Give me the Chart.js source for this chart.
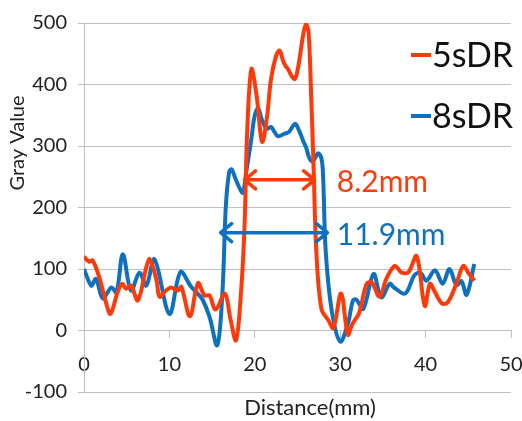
<!DOCTYPE html>
<html>
<head>
<meta charset="utf-8">
<script src="https://cdn.jsdelivr.net/npm/chart.js@4"></script>
<style>
  html, body { margin: 0; padding: 0; background: #fff; }
  #wrap { width: 522px; height: 421px; }
</style>
</head>
<body>
<div id="wrap"><canvas id="profileChart" width="522" height="421"></canvas></div>
<script>
// Profile data (distance in mm, gray value)
const redDist = [0, 0.6, 1.0, 1.8, 2.6, 3.1, 4.0, 4.5, 4.9, 5.5, 6.3, 7.3, 7.7, 8.5, 8.85, 9.6, 10.2, 11.0, 11.4, 12.4,
    13.35, 14.1, 14.7, 15.4, 16.5, 17.1, 17.8, 18.4, 18.8, 19.1, 19.6, 20.2, 20.85, 21.4, 21.9, 22.5, 22.9, 23.3, 23.6,
    23.9, 24.3, 24.7, 25.1, 25.7, 26.0, 26.3, 26.6, 26.9, 27.2, 27.8, 28.6, 29.2, 30.1, 30.9, 31.4, 32.2, 33.1, 33.7,
    34.6, 35.4, 36.4, 37.2, 38.0, 38.95, 39.9, 40.5, 41.0, 41.9, 42.6, 43.6, 44.4, 45.0, 45.7];
const redGray = [120, 112, 114, 86, 44, 27, 65, 76, 68, 73, 49, 103, 116, 81, 55, 65, 70, 65, 71, 23,
    77, 57, 57, 34, 60, 22, -16, 65, 170, 320, 425, 383, 307, 344, 409, 447, 455, 439, 430,
    425, 414, 409, 430, 484, 498, 484, 382, 258, 130, 35, 17, 4, 60, -7, 10, 28, 76, 78,
    55, 84, 105, 94, 95, 121, 40, 76, 65, 44, 46, 76, 105, 94, 81];

const blueDist = [0, 0.85, 1.4, 2.2, 3.2, 3.8, 4.55, 5.5, 6.5, 7.3, 8.25, 10.0, 11.3, 12.5, 13.3, 13.9, 14.7, 15.6,
    16.2, 16.6, 17.0, 17.3, 17.7, 18.2, 18.6, 19.0, 19.6, 20.0, 20.4, 20.8, 21.4, 21.9, 22.3, 22.7, 23.5, 24.0, 24.7,
    25.1, 25.7, 26.0, 26.4, 26.8, 27.4, 27.8, 28.0, 28.3, 29.0, 30.0, 30.9, 31.5, 31.9, 32.7, 33.9, 34.8, 35.8, 36.3,
    37.6, 38.7, 39.4, 40.1, 41.1, 42.0, 42.8, 43.6, 44.2, 44.8, 45.7];
const blueGray = [100, 73, 84, 52, 70, 62, 124, 65, 94, 73, 116, 27, 95, 72, 60, 50, 22, -24,
    60, 200, 258, 262, 248, 232, 224, 258, 312, 350, 361, 344, 328, 331, 323, 316, 320, 323, 336,
    328, 307, 298, 280, 275, 288, 280, 250, 130, 33, -18, 11, 49, 50, 35, 92, 54, 76, 70,
    60, 90, 94, 81, 98, 76, 100, 74, 80, 58, 108];

const seriesNames = ["5sDR", "8sDR"];
const seriesColors = ["#FF3A0A", "#0F70C0"];

// FWHM arrows: [from, to] in mm, drawn at gray value arrowLevel
const arrowFrom = [18.8, 16.0];
const arrowTo = [27.0, 28.5];
const arrowLevel = [245, 159];
const arrowText = ["8.2mm", "11.9mm"];
const arrowTextX = [29.6, 29.6];

const xTicks = [0, 10, 20, 30, 40, 50];
const yTicks = [-100, 0, 100, 200, 300, 400, 500];

const FONT = "Lato, 'Open Sans', sans-serif";

function toPoints(xs, ys) {
    return xs.map((x, i) => ({ x: x, y: ys[i] }));
}

// Axis titles, legend and arrows drawn on top of the chart
const overlayPlugin = {
    id: "overlay",
    afterDatasetsDraw(chart) {
        const ctx = chart.ctx;
        const xs = chart.scales.x;
        const ys = chart.scales.y;
        const area = chart.chartArea;
        ctx.save();

        // arrows with labels
        arrowFrom.forEach((from, i) => {
            const x1 = xs.getPixelForValue(from);
            const x2 = xs.getPixelForValue(arrowTo[i]);
            const y = ys.getPixelForValue(arrowLevel[i]);
            ctx.strokeStyle = seriesColors[i];
            ctx.lineWidth = 3.5;
            ctx.lineCap = "round";
            ctx.lineJoin = "round";
            ctx.beginPath();
            ctx.moveTo(x1, y);
            ctx.lineTo(x2, y);
            ctx.moveTo(x1 + 11, y - 9);
            ctx.lineTo(x1, y);
            ctx.lineTo(x1 + 11, y + 9);
            ctx.moveTo(x2 - 11, y - 9);
            ctx.lineTo(x2, y);
            ctx.lineTo(x2 - 11, y + 9);
            ctx.stroke();

            ctx.fillStyle = seriesColors[i];
            ctx.font = "30px " + FONT;
            ctx.textAlign = "left";
            ctx.textBaseline = "middle";
            ctx.fillText(arrowText[i], xs.getPixelForValue(arrowTextX[i]), y + 3);
        });

        // legend in the upper right of the plot
        chart.data.datasets.forEach((ds, i) => {
            const y = area.top + 32 + i * 61;
            const lx = area.right - 100;
            ctx.strokeStyle = ds.borderColor;
            ctx.lineWidth = 4;
            ctx.lineCap = "butt";
            ctx.beginPath();
            ctx.moveTo(lx, y);
            ctx.lineTo(lx + 20, y);
            ctx.stroke();
            ctx.fillStyle = "#111";
            ctx.font = "34px " + FONT;
            ctx.textAlign = "left";
            ctx.textBaseline = "middle";
            ctx.fillText(ds.label, lx + 21, y + 1);
        });

        // axis titles
        ctx.fillStyle = "#222";
        ctx.font = "22px " + FONT;
        ctx.textAlign = "center";
        ctx.textBaseline = "middle";
        ctx.fillText("Distance(mm)", 310, area.bottom + 16);

        ctx.translate(18, 143);
        ctx.rotate(-Math.PI / 2);
        ctx.font = "20px " + FONT;
        ctx.fillText("Gray Value", 0, 0);
        ctx.restore();
    }
};

const chart = new Chart(document.getElementById("profileChart"), {
    type: "line",
    data: {
        datasets: [
            {
                label: seriesNames[0],
                data: toPoints(redDist, redGray),
                borderColor: seriesColors[0],
                borderWidth: 4,
                pointRadius: 0,
                tension: 0.35,
                fill: false
            },
            {
                label: seriesNames[1],
                data: toPoints(blueDist, blueGray),
                borderColor: seriesColors[1],
                borderWidth: 4,
                pointRadius: 0,
                tension: 0.35,
                fill: false
            }
        ]
    },
    options: {
        responsive: false,
        animation: false,
        layout: { padding: { left: 24, right: 11, top: 20, bottom: 29 } },
        plugins: {
            legend: { display: false },
            tooltip: { enabled: false }
        },
        scales: {
            x: {
                type: "linear",
                position: { y: 0 },
                min: 0,
                max: 50,
                afterBuildTicks: (scale) => { scale.ticks = xTicks.map(v => ({ value: v })); },
                afterFit: (scale) => { scale.paddingLeft = 0; scale.paddingRight = 0; },
                grid: { drawOnChartArea: false, drawTicks: true, tickLength: 7, color: "#c0c0c0" },
                border: { display: true, color: "#c0c0c0" },
                ticks: { padding: 15, color: "#222", font: { family: FONT, size: 20 }, maxRotation: 0 }
            },
            y: {
                min: -100,
                max: 500,
                afterBuildTicks: (scale) => { scale.ticks = yTicks.map(v => ({ value: v })); },
                afterFit: (scale) => { scale.width = 60; },
                grid: { color: "#c0c0c0", tickLength: 6 },
                border: { display: true, color: "#c0c0c0" },
                ticks: { padding: 11, color: "#222", font: { family: FONT, size: 20 } }
            }
        }
    },
    plugins: [overlayPlugin]
});
</script>
</body>
</html>
